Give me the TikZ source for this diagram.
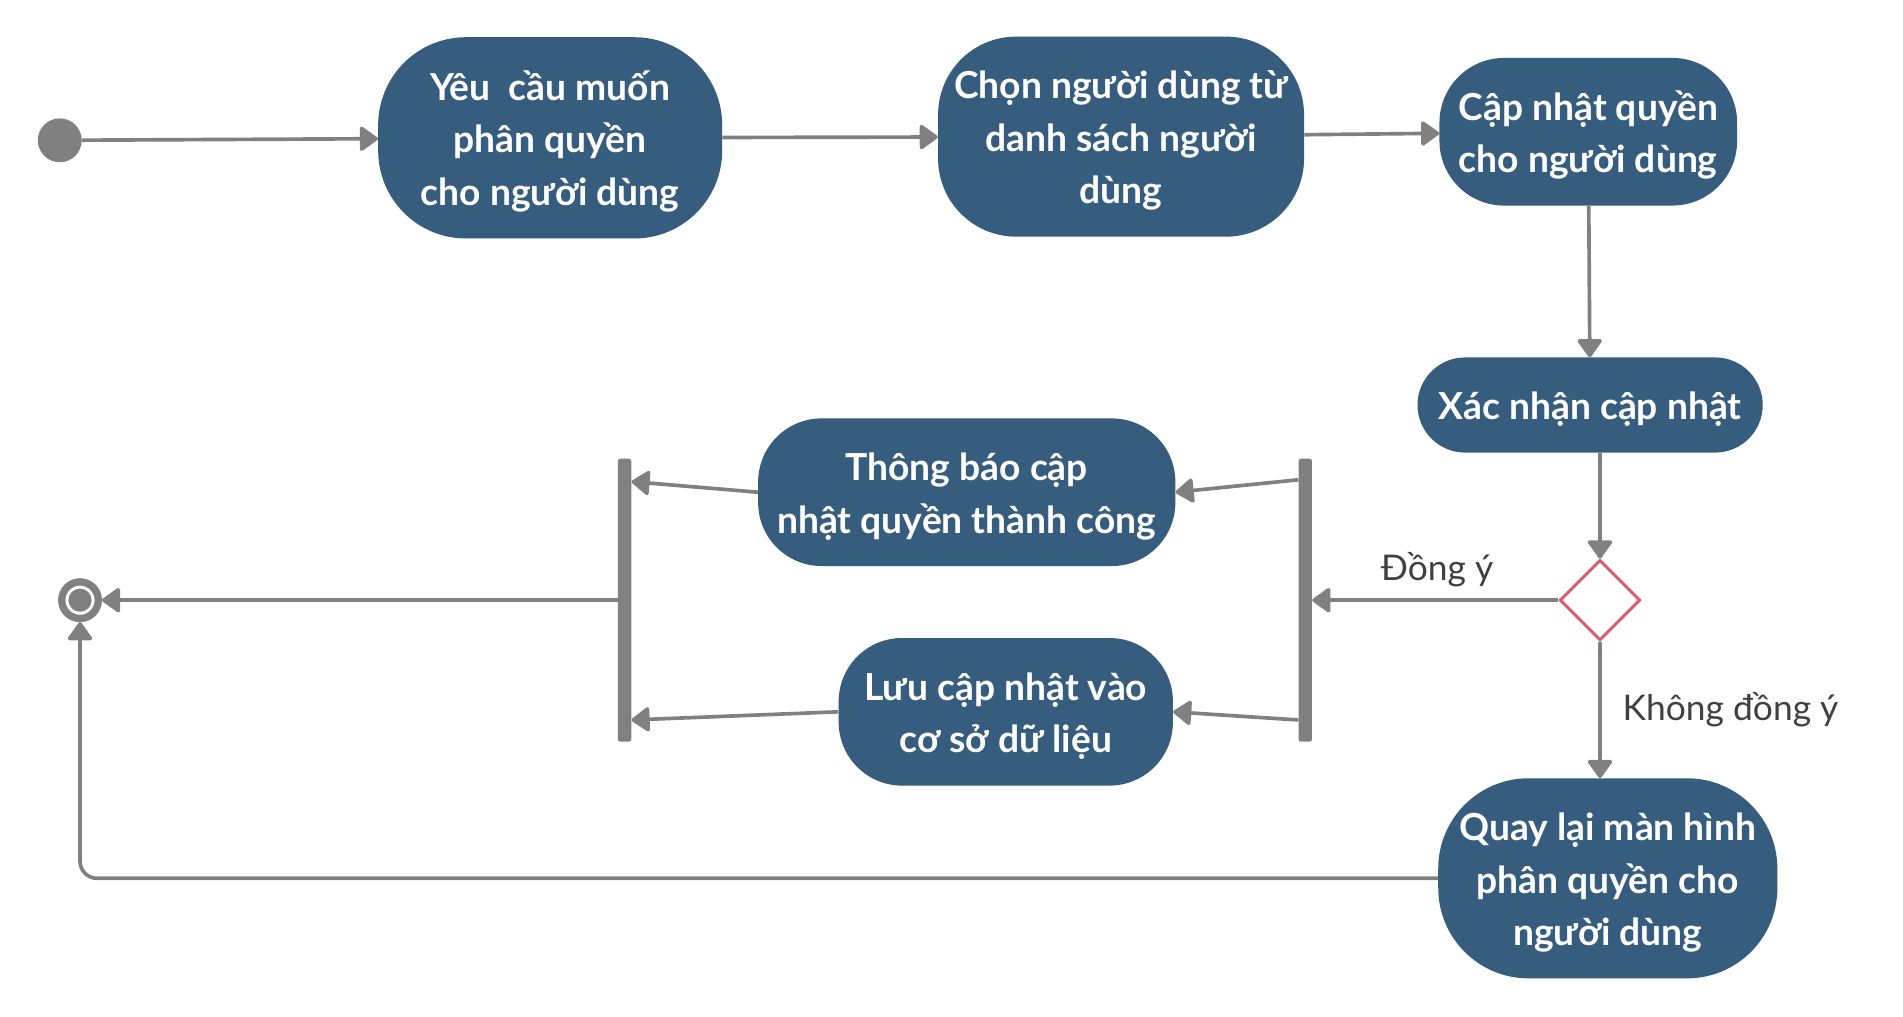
\documentclass[tikz,border=0pt]{standalone}
\usepackage{fontspec}
\setmainfont{Lato}
\usetikzlibrary{arrows.meta,shapes.geometric}
\definecolor{actfill}{RGB}{54,92,126}
\definecolor{ln}{RGB}{128,128,128}
\definecolor{dia}{RGB}{214,96,112}
\definecolor{lbl}{RGB}{64,64,64}
\newcommand{\acttext}[1]{\raisebox{-3.5pt}[\height][\depth]{\begin{tabular}{@{}c@{}}#1\end{tabular}}}
\begin{document}
\begin{tikzpicture}[x=1pt,y=-1pt,
  actbox/.style={fill=actfill,text=white,font=\bfseries\fontsize{30.5}{43}\selectfont,inner sep=0pt},
  flow/.style={draw=ln,line width=3pt,-{Triangle[length=16pt,width=22pt,round]}},
  bar/.style={fill=ln,minimum width=11pt,minimum height=232pt,inner sep=0pt,rounded corners=2pt},
  guard/.style={text=lbl,font=\fontsize{29}{34}\selectfont,inner sep=0pt}
]
\useasboundingbox (0,0) rectangle (1560,833);
% nodes
\node[circle,fill=ln,minimum size=36pt,inner sep=0pt] (init) at (49,115) {};
\node[actbox,minimum width=282pt,minimum height=165pt,rounded corners=72pt] (n1) at (451,113) {\acttext{Yêu\ \ cầu muốn\\phân quyền\\cho người dùng}};
\node[actbox,minimum width=300pt,minimum height=164pt,rounded corners=64pt] (n2) at (919,112) {\acttext{Chọn người dùng từ\\danh sách người\\dùng}};
\node[actbox,minimum width=244pt,minimum height=121pt,rounded corners=53pt] (n3) at (1302,108) {\acttext{Cập nhật quyền\\cho người dùng}};
\node[actbox,minimum width=283pt,minimum height=78pt,rounded corners=39pt] (n4) at (1303.5,332) {\acttext{Xác nhận cập nhật}};
\node[diamond,draw=dia,line width=2.5pt,fill=white,minimum width=66pt,minimum height=66pt,inner sep=0pt] (d) at (1311.6,492) {};
\node[actbox,minimum width=278pt,minimum height=164pt,rounded corners=74pt] (q) at (1318,720) {\acttext{Quay lại màn hình\\phân quyền cho\\người dùng}};
\node[bar] (f) at (1070,492) {};
\node[bar] (j) at (512,492) {};
\node[actbox,minimum width=342pt,minimum height=121pt,rounded corners=52pt] (tb) at (792.5,403.5) {\acttext{Thông báo cập\\nhật quyền thành công}};
\node[actbox,minimum width=274pt,minimum height=121pt,rounded corners=52pt] (lu) at (824.5,583.5) {\acttext{Lưu cập nhật vào\\cơ sở dữ liệu}};
\node[circle,draw=ln,line width=6pt,minimum size=30pt,inner sep=0pt] (fin) at (65.6,492) {};
\fill[ln] (fin.center) circle (9.5pt);
% labels
\node[guard] (l1) at (1178,467) {Đồng ý};
\node[guard,anchor=west] (l2) at (1330,582) {Không đồng ý};
% connectors
\draw[flow] (init) -- (n1);
\draw[flow] (n1) -- (n2);
\draw[flow] (n2) -- (n3);
\draw[flow] (n3) -- (n4);
\draw[flow] (d.north |- n4.south) -- (d.north);
\draw[flow] (d) -- (f);
\draw[flow] (d.south) -- (d.south |- q.north);
\draw[flow] ([yshift=-17.5pt]f.north west) -- (tb.east);
\draw[flow] ([yshift=18pt]f.south west) -- (lu.east);
\draw[flow] (tb.west) -- ([yshift=-19pt]j.north east);
\draw[flow] (lu.west) -- ([yshift=18pt]j.south east);
\draw[flow] (j) -- (fin);
\draw[flow,rounded corners=14pt] (q.west) -| (fin.south);
\end{tikzpicture}
\end{document}
